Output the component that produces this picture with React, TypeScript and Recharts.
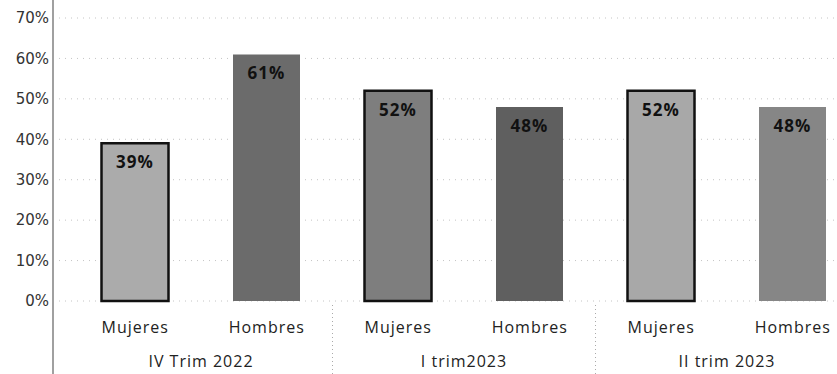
import { Bar, BarChart, CartesianGrid, Cell, LabelList, XAxis, YAxis } from 'recharts';

const sexes = ['Mujeres', 'Hombres', 'Mujeres', 'Hombres', 'Mujeres', 'Hombres'];
const periods = ['IV Trim 2022', 'IV Trim 2022', 'I trim2023', 'I trim2023', 'II trim 2023', 'II trim 2023'];
const shares = [0.39, 0.61, 0.52, 0.48, 0.52, 0.48];
const yTicks = [0, 0.1, 0.2, 0.3, 0.4, 0.5, 0.6, 0.7];

// grey tones as in the scanned original, women's bars outlined in black
const FILLS = ['#ababab', '#6b6b6b', '#7e7e7e', '#5f5f5f', '#a8a8a8', '#868686'];
const OUTLINED = [true, false, true, false, true, false];

const BAND = 131.5;
const FONT = '"Open Sans", "DejaVu Sans", sans-serif';

const rows = sexes.map((sex, i) => ({
  sex,
  period: periods[i],
  share: shares[i],
}));

const pct = (v: number) => `${Math.round(v * 100)}%`;

function SexTick({ x, y, payload }: any) {
  return (
    <text
      x={x}
      y={y}
      dy={24}
      textAnchor="middle"
      fontFamily={FONT}
      fontSize={16}
      fontWeight={500}
      letterSpacing={1}
      fill="#222"
    >
      {payload.value}
    </text>
  );
}

function PeriodTick({ x, y, payload, index }: any) {
  if (index % 2 !== 0) return <g />;
  return (
    <g>
      {index > 0 && (
        <line
          x1={x - BAND / 2}
          x2={x - BAND / 2}
          y1={y - 40}
          y2={y + 40}
          stroke="#aaa"
          strokeDasharray="1 3"
        />
      )}
      <text
        x={x + BAND / 2}
        y={y}
        dy={22}
        textAnchor="middle"
        fontFamily={FONT}
        fontSize={16}
        fontWeight={500}
        letterSpacing={1}
        fill="#222"
      >
        {payload.value}
      </text>
    </g>
  );
}

export default function App() {
  return (
    <div
      style={{
        position: 'absolute',
        left: 0,
        top: 0,
        width: 837,
        height: 374,
        overflow: 'hidden',
        background: '#fff',
      }}
    >
      <BarChart
        width={880}
        height={374}
        data={rows}
        margin={{ top: 18, right: 21.5, bottom: 0, left: 0 }}
        barSize={67}
      >
        <CartesianGrid vertical={false} stroke="#c4c4c4" strokeDasharray="1 5" />
        <YAxis
          domain={[0, 0.7]}
          ticks={yTicks}
          tickFormatter={pct}
          width={53}
          axisLine={false}
          tickLine={false}
          tickSize={2}
          tick={{ fontFamily: '"DejaVu Sans", sans-serif', fontSize: 15, fill: '#333' }}
          interval={0}
        />
        <XAxis
          dataKey="sex"
          xAxisId={0}
          height={36}
          interval={0}
          axisLine={false}
          tickLine={false}
          padding={{ left: 16.5, right: 0 }}
          tick={<SexTick />}
        />
        <XAxis
          dataKey="period"
          xAxisId="period"
          height={37}
          interval={0}
          axisLine={false}
          tickLine={false}
          padding={{ left: 16.5, right: 0 }}
          tick={<PeriodTick />}
        />
        <Bar dataKey="share" xAxisId={0} isAnimationActive={false}>
          {rows.map((r, i) => (
            <Cell
              key={i}
              fill={FILLS[i]}
              stroke={OUTLINED[i] ? '#111' : 'none'}
              strokeWidth={OUTLINED[i] ? 2.5 : 0}
            />
          ))}
          <LabelList
            dataKey="share"
            position="insideTop"
            offset={13}
            formatter={(v: any) => pct(Number(v))}
            style={{ fontFamily: FONT, fontSize: 17, fontWeight: 700, fill: '#111', letterSpacing: 1 }}
          />
        </Bar>
      </BarChart>
      <div
        style={{
          position: 'absolute',
          left: 52,
          top: 0,
          width: 2,
          height: 374,
          background: '#a0a0a0',
        }}
      />
    </div>
  );
}
